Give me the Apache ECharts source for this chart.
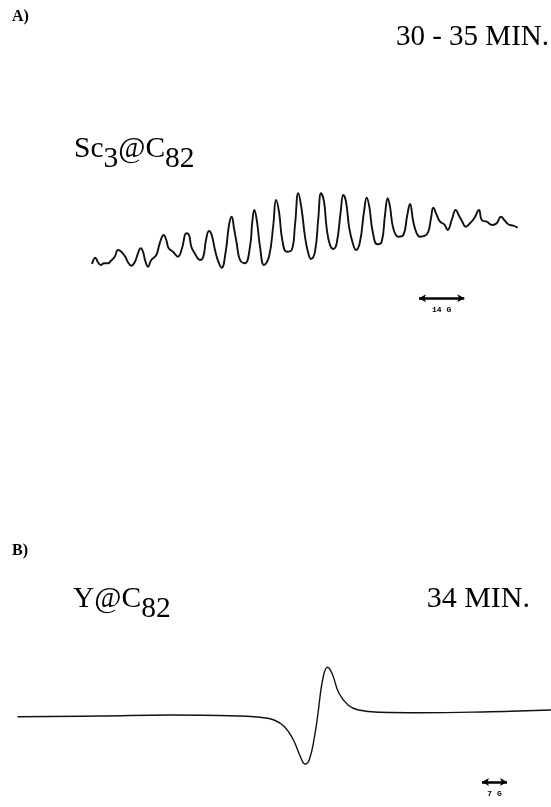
<!DOCTYPE html>
<html>
<head>
<meta charset="utf-8">
<script src="https://cdn.jsdelivr.net/npm/echarts@6/dist/echarts.min.js"></script>
<style>html,body{margin:0;padding:0;background:#fff;}#c{width:551px;height:807px;}</style>
</head>
<body>
<div id="c"></div>
<script>
// Spectrum A (Sc3@C82, 30-35 min): [field (arb. units), signal]
const specA = [[2,6],[5.3,12.3],[8,7.7],[10.7,5],[14,6.7],[18,6.7],[20.7,9],[24.7,13.3],[28,20],[31.3,18.3],[35.3,13.3],[38,7.7],[41.3,4.3],[44.7,7.7],[48,16.7],[50.7,21.7],[53,18.3],[55.3,9],[58,3.3],[61.3,10],[66.3,15],[69.7,26.7],[73.7,35],[76.3,30],[78.7,21.7],[83,18.3],[88,13.3],[92,21.7],[96.3,36.7],[99,35],[101.3,23.3],[104.7,16.7],[110,10],[113.3,13.3],[116,30],[119,39],[121.7,35],[125,20],[128.3,8.3],[131.7,2.3],[135.7,18.3],[139,45],[141.7,53.3],[144,41.7],[146.7,26.7],[150,10],[155,6.7],[160,23.3],[162.3,48.3],[164.3,60],[167,48.3],[170,23.3],[174,5],[179,13.3],[183.3,45],[186,70],[189,58.3],[192.3,30],[196.7,18.3],[201.7,20],[205,45],[208.3,76.7],[211.7,60],[215,33.3],[218.3,16.7],[221,11],[225,18.3],[228.3,51.7],[231,76.7],[234,68.3],[236.7,41.7],[240,25],[243.3,21],[246.7,26.7],[250.7,58.3],[253.3,75],[256,68.3],[259.3,41.7],[263.3,25],[266,20],[270,28.3],[274,58.3],[276.7,72.3],[279.3,63.3],[282.7,38.3],[287.3,25.7],[291.7,28.3],[295,55],[297.7,71.7],[300,63.3],[303.3,41.7],[308.3,33.3],[313.3,35],[317.3,55],[320,66],[323.3,48.3],[326.7,36.7],[330,33.3],[335,34.3],[338.3,38.3],[341,51.7],[343.3,62.3],[346.7,55],[350,48.3],[354.3,45.7],[357.7,40],[361.7,50],[365.7,60],[369,54.3],[372.3,48.3],[375.7,43.3],[380,46.7],[384.3,51.7],[389,60],[391.7,50],[396.7,48.3],[402.3,45],[406.7,46.7],[411,53.3],[414.3,50],[418.3,45.7],[423.3,44.3],[427.7,42.3]];
// Spectrum B (Y@C82, 34 min)
const specB = [[17.6,0.3],[100,1],[170,2],[240,1],[260,-0.3],[274,-3],[284.5,-9.7],[293.4,-23],[300.4,-39.7],[305,-47],[309.2,-43],[314.5,-19.7],[318,3.7],[322.6,37],[327.5,49.7],[332,43.7],[339,23.7],[348,12],[358.5,7],[380,4.7],[420,4.3],[490,5.3],[551,7]];
// Scale bars: [start, end, level, label]
const scaleA = [329, 374.3, -28.3, '14 G'];
const scaleB = [482, 507, -65, '7 G'];
// Text labels
const panelLabels = ['A)', 'B)'];
const timeLabels = ['30 - 35 MIN.', '34 MIN.'];

const chart = echarts.init(document.getElementById('c'), null, {renderer: 'canvas'});
const serif = 'Liberation Serif';
function scaleMark(s) {
  return {
    silent: true, animation: false,
    symbol: ['arrow', 'arrow'], symbolSize: [6, 7],
    lineStyle: {color: '#000', width: 2.5, type: 'solid'},
    label: {show: true, position: 'insideMiddleBottom', formatter: s[3], color: '#000',
            fontFamily: 'Liberation Mono', fontWeight: 'bold', fontSize: 8, distance: 8},
    data: [[{coord: [s[0], s[2]]}, {coord: [s[1], s[2]]}]]
  };
}
const formulaRich = {
  m: {fontFamily: serif, fontSize: 29.5, lineHeight: 30, verticalAlign: 'top', fill: '#000'},
  s: {fontFamily: serif, fontSize: 29.5, lineHeight: 30, verticalAlign: 'top', padding: [10, 0, 0, 0], fill: '#000'}
};
chart.setOption({
  animation: false,
  backgroundColor: '#fff',
  grid: [
    {left: 90, top: 180, width: 440, height: 130},
    {left: 0, top: 640, width: 551, height: 160}
  ],
  xAxis: [
    {type: 'value', gridIndex: 0, min: 0, max: 440, show: false},
    {type: 'value', gridIndex: 1, min: 0, max: 551, show: false}
  ],
  yAxis: [
    {type: 'value', gridIndex: 0, min: -40, max: 90, show: false},
    {type: 'value', gridIndex: 1, min: -83, max: 77, show: false}
  ],
  series: [
    {type: 'line', xAxisIndex: 0, yAxisIndex: 0, data: specA, showSymbol: false, smooth: 0.45,
     lineStyle: {color: '#111', width: 1.9}, markLine: scaleMark(scaleA)},
    {type: 'line', xAxisIndex: 1, yAxisIndex: 1, data: specB, showSymbol: false, smooth: 0.45,
     lineStyle: {color: '#111', width: 1.4}, markLine: scaleMark(scaleB)}
  ],
  graphic: [
    {type: 'text', left: 12, top: 9, style: {text: panelLabels[0], font: 'bold 16px "Liberation Serif"', fill: '#000'}},
    {type: 'text', left: 12, top: 543, style: {text: panelLabels[1], font: 'bold 16px "Liberation Serif"', fill: '#000'}},
    {type: 'text', right: 2, top: 23, style: {text: timeLabels[0], font: '29px "Liberation Serif"', fill: '#000'}},
    {type: 'text', right: 21, top: 584, style: {text: timeLabels[1], font: '30px "Liberation Serif"', fill: '#000'}},
    {type: 'text', left: 74, top: 134, style: {text: '{m|Sc}{s|3}{m|@C}{s|82}', rich: formulaRich}},
    {type: 'text', left: 73, top: 584, style: {text: '{m|Y@C}{s|82}', rich: formulaRich}}
  ]
});
</script>
</body>
</html>
